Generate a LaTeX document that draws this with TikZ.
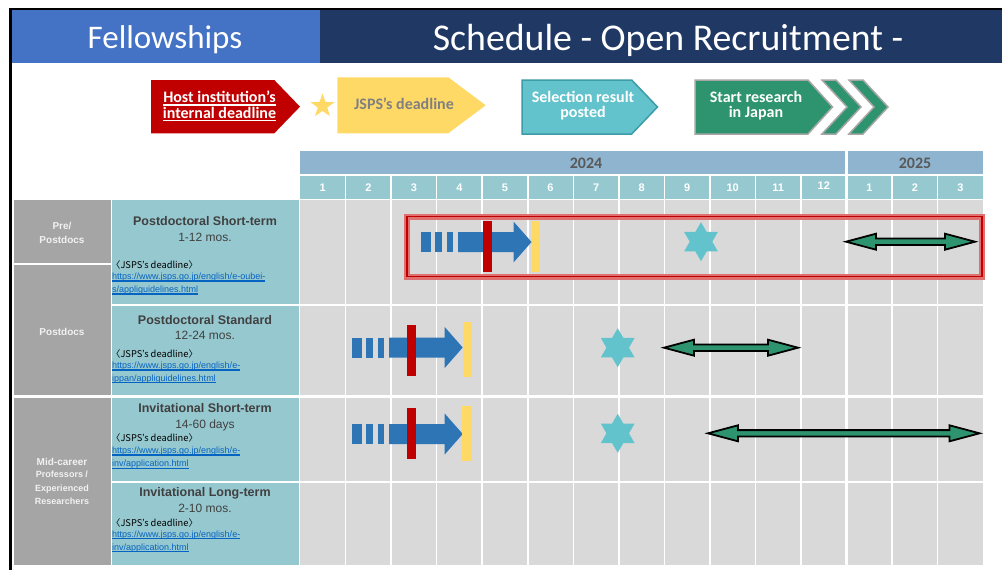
\documentclass[tikz,border=0pt]{standalone}
\usepackage{fontspec}
\setmainfont{Carlito}
\newfontfamily\arial{Liberation Sans}
\newfontfamily\jp{Noto Sans CJK JP}
\usetikzlibrary{shapes.geometric}
\definecolor{hdrblue}{HTML}{4472C4}
\definecolor{navy}{HTML}{203864}
\definecolor{yearc}{HTML}{8FB4D0}
\definecolor{monc}{HTML}{96C8CF}
\definecolor{cellg}{HTML}{D9D9D9}
\definecolor{catg}{HTML}{A5A5A5}
\definecolor{barblue}{HTML}{2E75B6}
\definecolor{dred}{HTML}{C00000}
\definecolor{ylw}{HTML}{FFD966}
\definecolor{starc}{HTML}{63C3CC}
\definecolor{tealdark}{HTML}{3D9CA8}
\definecolor{grn}{HTML}{2E9470}
\definecolor{txtg}{HTML}{404040}
\definecolor{urlc}{HTML}{0563C1}
\definecolor{hlred}{HTML}{E07070}
\definecolor{yrtxt}{HTML}{595959}
\newcommand\tul[3]{\setbox0\hbox{#3}\rlap{\raisebox{-#1}{\rule{\wd0}{#2}}}\box0}
\newcommand\bluearrow[3]{%
  \fill[barblue] (#1,#3-10) rectangle (#1+10.5,#3+10);
  \fill[barblue] (#1+14.5,#3-10) rectangle (#1+21,#3+10);
  \fill[barblue] (#1+26,#3-10) rectangle (#1+32.5,#3+10);
  \fill[barblue] (#1+37.5,#3-10) -- (#2-18,#3-10) -- (#2-18,#3-20.5) -- (#2,#3)
     -- (#2-18,#3+20.5) -- (#2-18,#3+10) -- (#1+37.5,#3+10) -- cycle;}
\newcommand\greenarrow[3]{%
  \filldraw[fill=grn, draw=black, line width=1.8pt, line join=miter]
   (#1,#3) -- (#1+30,#3-8) -- (#1+30,#3-3.2) -- (#2-30,#3-3.2) -- (#2-30,#3-8) -- (#2,#3)
   -- (#2-30,#3+8) -- (#2-30,#3+3.2) -- (#1+30,#3+3.2) -- (#1+30,#3+8) -- cycle;}
% six-pointed star: centre x, centre y
\newcommand\sixstar[2]{%
  \fill[starc] plot[samples at={0,...,11}, variable=\i]
    ({#1+(mod(\i,2)==0 ? 19.5 : 11.3)*cos(30+30*\i)}, {#2+(mod(\i,2)==0 ? 19.5 : 11.3)*sin(30+30*\i)}) -- cycle;}
\tikzset{
  title/.style={anchor=base, inner sep=0pt, text=txtg, font=\arial\bfseries\fontsize{12.5}{14}\selectfont},
  sub/.style={anchor=base, inner sep=0pt, text=txtg, font=\arial\fontsize{12}{14}\selectfont},
  dl/.style={anchor=base west, inner sep=0pt, text=black, font=\jp\fontsize{9.3}{10}\selectfont},
  url/.style={anchor=base west, inner sep=0pt, text=urlc, font=\arial\fontsize{9}{10}\selectfont},
  cat/.style={anchor=base, inner sep=0pt, text=white!95!black, font=\arial\bfseries\fontsize{10}{12}\selectfont},
  catsm/.style={anchor=base, inner sep=0pt, text=white!95!black, font=\arial\bfseries\fontsize{9}{10}\selectfont},
  mon/.style={inner sep=0pt, text=white, font=\arial\bfseries\fontsize{11}{12}\selectfont},
  yr/.style={inner sep=0pt, text=yrtxt, font=\bfseries\fontsize{16}{18}\selectfont},
  legw/.style={anchor=base, inner sep=0pt, text=white, font=\bfseries\fontsize{16}{16}\selectfont},
}
\begin{document}
\begin{tikzpicture}[x=1pt,y=-1pt]
\useasboundingbox (0,0) rectangle (1002,570);
\fill[white] (0,0) rectangle (1002,570);
% header
\fill[hdrblue] (12,10) rectangle (320,63);
\fill[navy] (320,10) rectangle (1002,63);
\draw[line width=2.5pt] (10.5,570) -- (10.5,9) -- (1002,9);
\node[anchor=base, inner sep=0pt, text=white, font=\fontsize{33}{36}\selectfont] (h1) at (165,48.5) {Fellowships};
\node[anchor=base, inner sep=0pt, text=white, font=\fontsize{37.8}{40}\selectfont] (h2) at (668,50) {Schedule - Open Recruitment -};
% legend
\fill[dred] (151,80) -- (274.3,80) -- (300,106.7) -- (274.3,133.3) -- (151,133.3) -- cycle;
\node[legw] (l1a) at (219.5,102.5) {\tul{3pt}{1.5pt}{Host institution’s}};
\node[legw] (l1b) at (219.5,118.3) {\tul{3pt}{1.5pt}{internal deadline}};
\fill[ylw] plot[samples at={0,...,9}, variable=\i]
  ({322.5+(mod(\i,2)==0 ? 12.5 : 5)*cos(-90+36*\i)}, {106+(mod(\i,2)==0 ? 12.5 : 5)*sin(-90+36*\i)}) -- cycle;
\fill[ylw] (337.3,77.3) -- (448.3,77.3) -- (485.7,105.3) -- (448.3,133.3) -- (337.3,133.3) -- cycle;
\node[anchor=base, inner sep=0pt, text=gray, font=\bfseries\fontsize{16}{16}\selectfont] (l2) at (404,109) {JSPS’s deadline};
\filldraw[fill=starc, draw=tealdark, line width=1.5pt] (522,80) -- (631.7,80) -- (657.5,107) -- (631.7,134) -- (522,134) -- cycle;
\node[legw] (l3a) at (583,102.5) {Selection result};
\node[legw] (l3b) at (583,117) {posted};
\filldraw[fill=grn, draw=gray!70, line width=1.5pt] (695,80) -- (808,80) -- (832.5,107) -- (808,134) -- (695,134) -- cycle;
\filldraw[fill=grn, draw=gray!70, line width=1.5pt] (822,80) -- (836,80) -- (861,107) -- (836,134) -- (822,134) -- (847,107) -- cycle;
\filldraw[fill=grn, draw=gray!70, line width=1.5pt] (849,80) -- (863,80) -- (888,107) -- (863,134) -- (849,134) -- (874,107) -- cycle;
\node[legw] (l4a) at (756,102.5) {Start research};
\node[legw] (l4b) at (756,117) {in Japan};
% year and month rows
\fill[yearc] (300,151) rectangle (845.5,174.3);
\fill[yearc] (848,151) rectangle (983.3,174.3);
\node[yr] (y24) at (586,163) {2024};
\node[yr] (y25) at (915,163) {2025};
\fill[monc] (300,175.5) rectangle (983.3,199);
\foreach \m/\dy [count=\k] in {1/0,2/0,3/0,4/0,5/0,6/0,7/0,8/0,9/0,10/0,11/0,12/-2.5,1/0,2/0,3/0}
  \node[mon] (m\k) at ({300+45.55*(\k-0.5)},188+\dy) {\m};
% grid
\fill[cellg] (300,200) rectangle (983.3,303.5);
\fill[cellg] (300,306) rectangle (983.3,395);
\fill[cellg] (300,397.5) rectangle (983.3,480.5);
\fill[cellg] (300,482.5) rectangle (983.3,565);
\foreach \k in {1,...,11,13,14}
  \draw[white, line width=1.5pt] ({300+45.55*\k},175.5) -- ({300+45.55*\k},565);
\draw[white, line width=3pt] ({300+45.55*12},151) -- ({300+45.55*12},565);
% left columns
\fill[catg] (14,200) rectangle (110.5,262.5);
\fill[catg] (14,265) rectangle (110.5,395);
\fill[catg] (14,397.5) rectangle (110.5,565);
\fill[monc] (111.5,200) rectangle (298.5,303.5);
\fill[monc] (111.5,306) rectangle (298.5,395);
\fill[monc] (111.5,397.5) rectangle (298.5,480.5);
\fill[monc] (111.5,482.5) rectangle (298.5,565);
\node[cat] (c1a) at (62,229.3) {Pre/};
\node[cat] (c1b) at (62,243.3) {Postdocs};
\node[cat] (c2) at (62,335.7) {Postdocs};
\node[cat] (c3a) at (62,465.7) {Mid-career};
\node[catsm] (c3b) at (62,477.8) {Professors /};
\node[catsm] (c3c) at (62,491.5) {Experienced};
\node[catsm] (c3d) at (62,504.3) {Researchers};
% row texts
\node[title] (t1) at (205,225.7) {Postdoctoral Short-term};
\node[sub] (s1) at (205,241.7) {1-12 mos.};
\node[dl] (d1) at (111,268.7) {〈JSPS’s deadline〉};
\node[url] (u1a) at (112,279.5) {\tul{2.2pt}{1.4pt}{https://www.jsps.go.jp/english/e-oubei-}};
\node[url] (u1b) at (112,292.5) {\tul{2.2pt}{1.4pt}{s/appliguidelines.html}};
\node[title] (t2) at (205,324) {Postdoctoral Standard};
\node[sub] (s2) at (205,339.3) {12-24 mos.};
\node[dl] (d2) at (111,357.3) {〈JSPS’s deadline〉};
\node[url] (u2a) at (112,368.3) {\tul{2.2pt}{1.4pt}{https://www.jsps.go.jp/english/e-}};
\node[url] (u2b) at (112,381) {\tul{2.2pt}{1.4pt}{ippan/appliguidelines.html}};
\node[title] (t3) at (205,412.7) {Invitational Short-term};
\node[sub] (s3) at (205,428.3) {14-60 days};
\node[dl] (d3) at (111,441.7) {〈JSPS’s deadline〉};
\node[url] (u3a) at (112,453.3) {\tul{2.2pt}{1.4pt}{https://www.jsps.go.jp/english/e-}};
\node[url] (u3b) at (112,466.7) {\tul{2.2pt}{1.4pt}{inv/application.html}};
\node[title] (t4) at (205,496.7) {Invitational Long-term};
\node[sub] (s4) at (205,512.3) {2-10 mos.};
\node[dl] (d4) at (111,526.5) {〈JSPS’s deadline〉};
\node[url] (u4a) at (112,537) {\tul{2.2pt}{1.4pt}{https://www.jsps.go.jp/english/e-}};
\node[url] (u4b) at (112,550) {\tul{2.2pt}{1.4pt}{inv/application.html}};
% highlight
\draw[hlred, line width=6pt] (407,216.5) rectangle (982,276.5);
\draw[dred, line width=1.8pt] (407,216.5) rectangle (982,276.5);
% row 1
\bluearrow{420.5}{531.5}{242}
\fill[dred] (483.3,221) rectangle (492.3,271.7);
\fill[ylw] (531.7,221) rectangle (540,271.7);
\sixstar{701}{241.7}
\greenarrow{846}{975}{241.7}
% row 2
\bluearrow{351.5}{462.7}{347.5}
\fill[dred] (406.7,325) rectangle (415.7,376);
\fill[ylw] (462.7,321.7) rectangle (472.3,376.7);
\sixstar{617.7}{347.7}
\greenarrow{664}{798}{347.7}
% row 3
\bluearrow{351.5}{462.7}{434}
\fill[dred] (406.7,408.3) rectangle (416,459.3);
\fill[ylw] (462,405.7) rectangle (471.7,460.7);
\sixstar{617.7}{433.3}
\greenarrow{708}{979.5}{433.3}
\end{tikzpicture}
\end{document}
